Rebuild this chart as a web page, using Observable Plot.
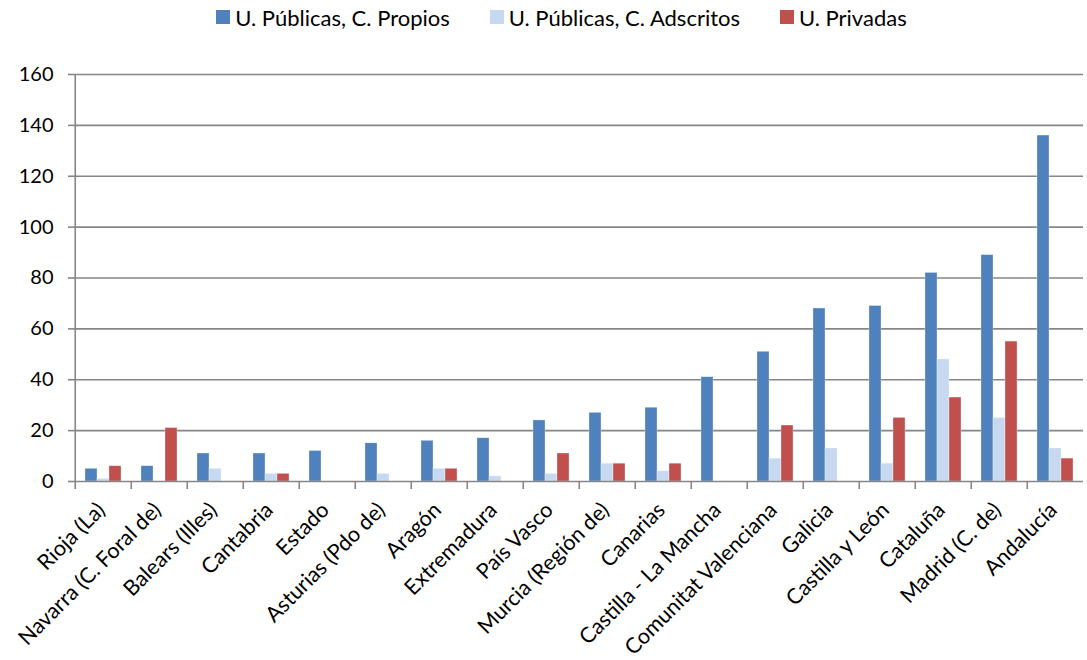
<!DOCTYPE html>
<html>
<head>
<meta charset="utf-8">
<script src="https://cdn.jsdelivr.net/npm/d3@7"></script>
<script src="https://cdn.jsdelivr.net/npm/@observablehq/plot@0.6"></script>
<style>
  html, body { margin: 0; padding: 0; background: #fff; }
  body { width: 1087px; height: 660px; overflow: hidden; font-family: Lato, "Open Sans", sans-serif; }
  #legend { height: 34px; display: flex; justify-content: center; align-items: center; gap: 40px; font-size: 22px; color: #000; padding-left: 36px; box-sizing: border-box; }
  #legend .item { display: flex; align-items: center; gap: 5px; }
  #legend .sw { width: 14px; height: 14px; display: inline-block; }
</style>
</head>
<body>
<div id="legend"></div>
<div id="chart"></div>
<script>
const categories = ["Rioja (La)", "Navarra (C. Foral de)", "Balears (Illes)", "Cantabria", "Estado", "Asturias (Pdo de)", "Aragón", "Extremadura", "País Vasco", "Murcia (Región de)", "Canarias", "Castilla - La Mancha", "Comunitat Valenciana", "Galicia", "Castilla y León", "Cataluña", "Madrid (C. de)", "Andalucía"];
const propios   = [5, 6, 11, 11, 12, 15, 16, 17, 24, 27, 29, 41, 51, 68, 69, 82, 89, 136];
const adscritos = [1, 0, 5, 3, 0, 3, 5, 2, 3, 7, 4, 0, 9, 13, 7, 48, 25, 13];
const privadas  = [6, 21, 0, 3, 0, 0, 5, 0, 11, 7, 7, 0, 22, 0, 25, 33, 55, 9];
const series = ["U. Públicas, C. Propios", "U. Públicas, C. Adscritos", "U. Privadas"];
const colors = ["#4F81BD", "#C6D9F1", "#C0504D"];
const yTicks = [0, 20, 40, 60, 80, 100, 120, 140, 160];

const valuesBySeries = [propios, adscritos, privadas];
const data = categories.flatMap((c, i) => series.map((s, j) => ({cat: c, series: s, value: valuesBySeries[j][i]})));

// legend
const legend = document.getElementById("legend");
series.forEach((s, j) => {
  const it = document.createElement("span");
  it.className = "item";
  const sw = document.createElement("span");
  sw.className = "sw";
  sw.style.background = colors[j];
  const tx = document.createElement("span");
  tx.textContent = s;
  it.appendChild(sw); it.appendChild(tx);
  legend.appendChild(it);
});

const W = 1087, ML = 70, MR = 0;
const facetW = (W - ML - MR) / categories.length;
const grid = "#868686";

const chart = Plot.plot({
  width: W,
  height: 626,
  marginLeft: ML,
  marginRight: MR,
  marginTop: 40,
  marginBottom: 179,
  style: {fontFamily: "Lato, 'Open Sans', sans-serif", fontSize: "22px", color: "#000", background: "#fff", overflow: "visible"},
  fx: {domain: categories, padding: 0, label: null, axis: null},
  x: {domain: series, paddingInner: 0, paddingOuter: 0.75, axis: null},
  y: {domain: [0, 160], label: null, axis: null},
  color: {domain: series, range: colors},
  marks: [
    Plot.ruleY(yTicks.filter(v => v > 0), {stroke: grid, strokeWidth: 1.6}),
    Plot.barY(data, {fx: "cat", x: "series", y: "value", fill: "series", stroke: "#fff", strokeOpacity: 0.5, strokeWidth: 0.6}),
    Plot.ruleY([0], {stroke: grid, strokeWidth: 1.6}),
    Plot.ruleX(categories, {fx: d => d, x: () => series[1], dx: -facetW / 2, y1: 0, y2: 0, insetBottom: -8, stroke: grid, strokeWidth: 1.6}),
    Plot.ruleX([categories[0]], {fx: d => d, x: () => series[1], dx: -facetW / 2, y1: 0, y2: 160, stroke: grid, strokeWidth: 1.6}),
    Plot.axisY({ticks: yTicks, anchor: "left", tickSize: 7, tickPadding: 15, stroke: grid, strokeWidth: 1.6, fill: "#000", fontSize: 20, label: null, tickFormat: d => String(d)}),
    Plot.axisFx({anchor: "bottom", tickRotate: -45, tickSize: 0, tickPadding: 12, dx: -2, dy: 13, label: null, fill: "#000", fontSize: 21.5})
  ]
});
document.getElementById("chart").appendChild(chart);
</script>
</body>
</html>
